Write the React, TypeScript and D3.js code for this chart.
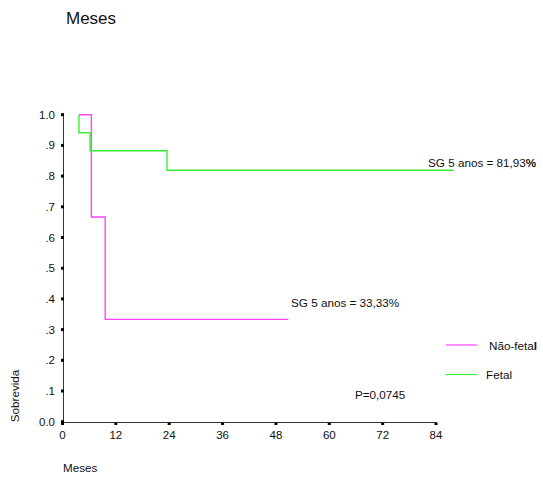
import React from "react";
import * as d3 from "d3";

// Kaplan-Meier survival steps (time in months, cumulative survival)
const naoFetalTimes = [3.7, 6.5, 9.6, 50.8];
const naoFetalSurv = [1.0, 0.6667, 0.3333, 0.3333];
const fetalTimes = [3.7, 3.7, 6.2, 23.5, 88];
const fetalSurv = [1.0, 0.9412, 0.8824, 0.8193, 0.8193];

const xTicks = [0, 12, 24, 36, 48, 60, 72, 84];
const yTicks = [0, 0.1, 0.2, 0.3, 0.4, 0.5, 0.6, 0.7, 0.8, 0.9, 1.0];
const yTickLabels = ["0.0", ".1", ".2", ".3", ".4", ".5", ".6", ".7", ".8", ".9", "1.0"];

const seriesNames = ["Não-fetal", "Fetal"];
const seriesColors = ["#ff44ff", "#33ee33"];

const font = "'Liberation Sans', Arial, sans-serif";
const fs = 11.7;

export default function App() {
  const x = d3.scaleLinear().domain([0, 84]).range([62.5, 436]);
  const y = d3.scaleLinear().domain([0, 1]).range([421.7, 114.7]);

  const line = d3
    .line<[number, number]>()
    .x((d) => x(d[0]))
    .y((d) => y(d[1]))
    .curve(d3.curveStepAfter);

  const naoFetal: [number, number][] = naoFetalTimes.map((t, i) => [t, naoFetalSurv[i]]);
  const fetal: [number, number][] = fetalTimes.map((t, i) => [t, fetalSurv[i]]);

  return (
    <svg
      width={543}
      height={478}
      style={{ position: "absolute", left: 0, top: 0, background: "#fff" }}
      fontFamily={font}
    >
      <text x={66} y={23.5} fontSize={17} fill="#111">Meses</text>

      {/* axes */}
      <line x1={63.5} x2={63.5} y1={114} y2={422.5} stroke="#333" strokeWidth={1} />
      <line x1={62.5} x2={436.5} y1={422.5} y2={422.5} stroke="#333" strokeWidth={1} />

      {yTicks.map((v, i) => (
        <g key={"y" + i}>
          <rect x={61} y={y(v) - 1.5} width={3} height={3} fill="#000" />
          <text x={55} y={y(v) + 4} fontSize={11.5} textAnchor="end" fill="#111">
            {yTickLabels[i]}
          </text>
        </g>
      ))}
      {xTicks.map((v, i) => (
        <g key={"x" + i}>
          <rect x={x(v) - 1.5} y={422.5} width={3} height={2.5} fill="#000" />
          <text x={x(v)} y={439.3} fontSize={11.5} textAnchor="middle" fill="#111">
            {v}
          </text>
        </g>
      ))}

      {/* survival curves */}
      <path d={line(naoFetal) || ""} fill="none" stroke={seriesColors[0]} strokeWidth={1.4} />
      <path d={line(fetal) || ""} fill="none" stroke={seriesColors[1]} strokeWidth={1.4} />

      <text x={291} y={307} fontSize={fs} fill="#111">SG 5 anos = 33,33%</text>
      <text x={428} y={167} fontSize={fs} fill="#111">
        SG 5 anos = 81,93<tspan fontWeight="bold">%</tspan>
      </text>
      <text x={355} y={399} fontSize={fs} fill="#111">P=0,0745</text>

      {/* legend */}
      <line x1={446} x2={477} y1={345} y2={345} stroke={seriesColors[0]} strokeWidth={1.2} />
      <text x={489} y={350} fontSize={fs} fill="#111">
        Não-feta<tspan fontWeight="bold">l</tspan>
      </text>
      <line x1={446} x2={477} y1={374.5} y2={374.5} stroke={seriesColors[1]} strokeWidth={1.2} />
      <text x={486} y={379} fontSize={fs} fill="#111">{seriesNames[1]}</text>

      <text
        transform={`translate(19,396) rotate(-90)`}
        fontSize={fs}
        textAnchor="middle"
        fill="#111"
      >
        Sobrevida
      </text>
      <text x={63} y={472} fontSize={fs} fill="#111">Meses</text>
    </svg>
  );
}
